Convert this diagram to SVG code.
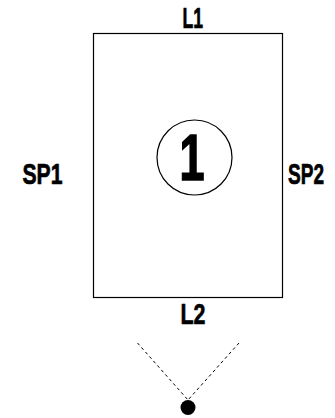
<svg xmlns="http://www.w3.org/2000/svg" width="335" height="418" viewBox="0 0 335 418">
<style>
.lbl{font-family:"Liberation Sans",Arial,sans-serif;font-weight:bold;font-size:30px;fill:#000;stroke:#000;stroke-width:0.7}
.num{font-family:"Liberation Sans",Arial,sans-serif;font-weight:bold;font-size:64px;fill:#000;stroke:#000;stroke-width:1.6}
.dash{stroke:#000;stroke-width:1;stroke-dasharray:3 3;fill:none}
</style>
<rect width="335" height="418" fill="#fff"/>
<g id="room">
<rect x="93.5" y="33.5" width="189" height="264" fill="none" stroke="#000" stroke-width="1.2"/>
<circle cx="194.5" cy="157.5" r="37.5" fill="none" stroke="#000" stroke-width="1.2"/>
<text class="num" x="179.5" y="180" textLength="25" lengthAdjust="spacingAndGlyphs">1</text>
</g>
<g id="labels">
<text class="lbl" x="182.5" y="28" textLength="20.5" lengthAdjust="spacingAndGlyphs">L1</text>
<text class="lbl" x="180.5" y="324" textLength="25" lengthAdjust="spacingAndGlyphs">L2</text>
<text class="lbl" x="22.5" y="183.5" textLength="40" lengthAdjust="spacingAndGlyphs">SP1</text>
<text class="lbl" x="324" y="183.5" text-anchor="end" textLength="36" lengthAdjust="spacingAndGlyphs">SP2</text>
</g>
<g id="connectors">
<line class="dash" x1="137.5" y1="343" x2="188" y2="400"/>
<line class="dash" x1="239" y1="343" x2="188" y2="400"/>
</g>
<g id="viewpoint">
<circle cx="188" cy="407.5" r="7.5" fill="#000"/>
</g>
</svg>
